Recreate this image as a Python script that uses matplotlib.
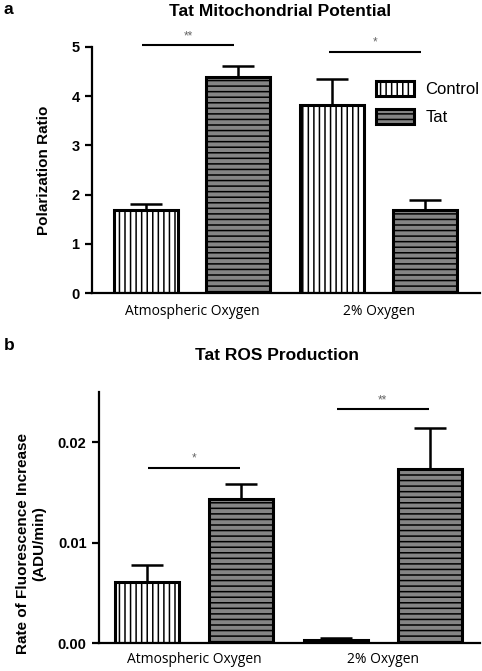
import matplotlib
matplotlib.use("Agg")
import matplotlib.pyplot as plt
import numpy as np

# ---- data ----
groups = ["Atmospheric Oxygen", "2% Oxygen"]
series = ["Control", "Tat"]

pot_control = [1.69, 3.82]
pot_control_err = [0.12, 0.52]
pot_tat = [4.39, 1.69]
pot_tat_err = [0.21, 0.20]
pot_yticks = [0, 1, 2, 3, 4, 5]
pot_sig = [("**", 0, 5.03), ("*", 1, 4.90)]

ros_control = [0.00605, 0.0003]
ros_control_err = [0.0017, 0.0002]
ros_tat = [0.0143, 0.0173]
ros_tat_err = [0.0015, 0.0041]
ros_yticks = [0.0, 0.01, 0.02]
ros_yticklabels = ["0.00", "0.01", "0.02"]
ros_sig = [("*", 0, 0.01746), ("**", 1, 0.02327)]

plt.rcParams['hatch.linewidth'] = 1.1
plt.rcParams['font.family'] = ['Liberation Sans', 'DejaVu Sans']

fig = plt.figure(figsize=(4.82, 6.71), dpi=100)

ctrl_style = dict(facecolor="white", edgecolor="black", hatch="|||", linewidth=2.2)
tat_style = dict(facecolor="#858585", edgecolor="black", hatch="---", linewidth=2.2)


def draw_panel(ax, ctrl, ctrl_err, tat, tat_err, offset, width, xlim, ylim,
               yticks, yticklabels, sig, sig_halfspan, sig_dx, xpad):
    x = np.arange(len(groups))
    ax.bar(x - offset, ctrl, width, **ctrl_style, label=series[0], zorder=2)
    ax.bar(x + offset, tat, width, **tat_style, label=series[1], zorder=2)
    ekw = dict(fmt="none", ecolor="black", elinewidth=1.8, capsize=11.5,
               capthick=1.8, zorder=1)
    ax.errorbar(x - offset, ctrl, yerr=[np.zeros(len(ctrl)), ctrl_err], **ekw)
    ax.errorbar(x + offset, tat, yerr=[np.zeros(len(tat)), tat_err], **ekw)
    for lab, g, yv in sig:
        cx = g + sig_dx
        ax.plot([cx - sig_halfspan, cx + sig_halfspan], [yv, yv], color="black",
                lw=1.5, clip_on=False, solid_capstyle="butt")
        ax.annotate(lab, (cx, yv), xytext=(0, 2), textcoords="offset points",
                    ha="center", va="bottom", fontsize=8.5, color="#666666",
                    annotation_clip=False)
    ax.set_xlim(*xlim)
    ax.set_ylim(*ylim)
    ax.set_xticks(x)
    ax.set_xticklabels(groups, fontsize=10, family=['Open Sans', 'DejaVu Sans'])
    ax.tick_params(axis="x", length=0, pad=xpad)
    ax.set_yticks(yticks)
    ax.set_yticklabels(yticklabels, fontsize=10.5, fontweight="bold")
    ax.tick_params(axis="y", length=5, width=1.6, direction="out", pad=4)
    for s in ["top", "right"]:
        ax.spines[s].set_visible(False)
    for s in ["left", "bottom"]:
        ax.spines[s].set_linewidth(1.6)


ax1 = fig.add_axes([0.1909, 0.5629, 0.805, 0.3675])
draw_panel(ax1, pot_control, pot_control_err, pot_tat, pot_tat_err,
           offset=0.247, width=0.343, xlim=(-0.536, 1.544), ylim=(0, 5),
           yticks=pot_yticks, yticklabels=[str(v) for v in pot_yticks],
           sig=pot_sig, sig_halfspan=0.247, sig_dx=-0.02, xpad=8)
ax1.set_ylabel("Polarization Ratio", fontsize=11, fontweight="bold")
ax1.yaxis.set_label_coords(-0.106, 0.5)
leg = ax1.legend(loc="upper left", bbox_to_anchor=(376 / 482, 1 - 81 / 671),
                 bbox_transform=fig.transFigure, frameon=False, fontsize=12,
                 handlelength=2.3, handleheight=1.0, labelspacing=0.72,
                 handletextpad=0.65, borderpad=0, borderaxespad=0)

ax2 = fig.add_axes([0.2054, 0.0412, 0.7906, 0.3751])
draw_panel(ax2, ros_control, ros_control_err, ros_tat, ros_tat_err,
           offset=0.249, width=0.339, xlim=(-0.503, 1.515), ylim=(0, 0.025),
           yticks=ros_yticks, yticklabels=ros_yticklabels,
           sig=ros_sig, sig_halfspan=0.244, sig_dx=0.0, xpad=6)
ax2.set_ylabel("Rate of Fluorescence Increase\n(ADU/min)", fontsize=11,
               fontweight="bold", linespacing=1.2)
ax2.yaxis.set_label_coords(-0.138, 0.395)

fig.text(280 / 482, 1 - 12 / 671, "Tat Mitochondrial Potential", ha="center",
         va="center", fontsize=12.5, fontweight="bold")
fig.text(277 / 482, 1 - 355 / 671, "Tat ROS Production", ha="center",
         va="center", fontsize=12.5, fontweight="bold")
fig.text(4 / 482, 1 - 10 / 671, "a", ha="left", va="center", fontsize=12.5,
         fontweight="bold")
fig.text(4 / 482, 1 - 345 / 671, "b", ha="left", va="center", fontsize=12.5,
         fontweight="bold")

fig.savefig("out.png", dpi=100)
